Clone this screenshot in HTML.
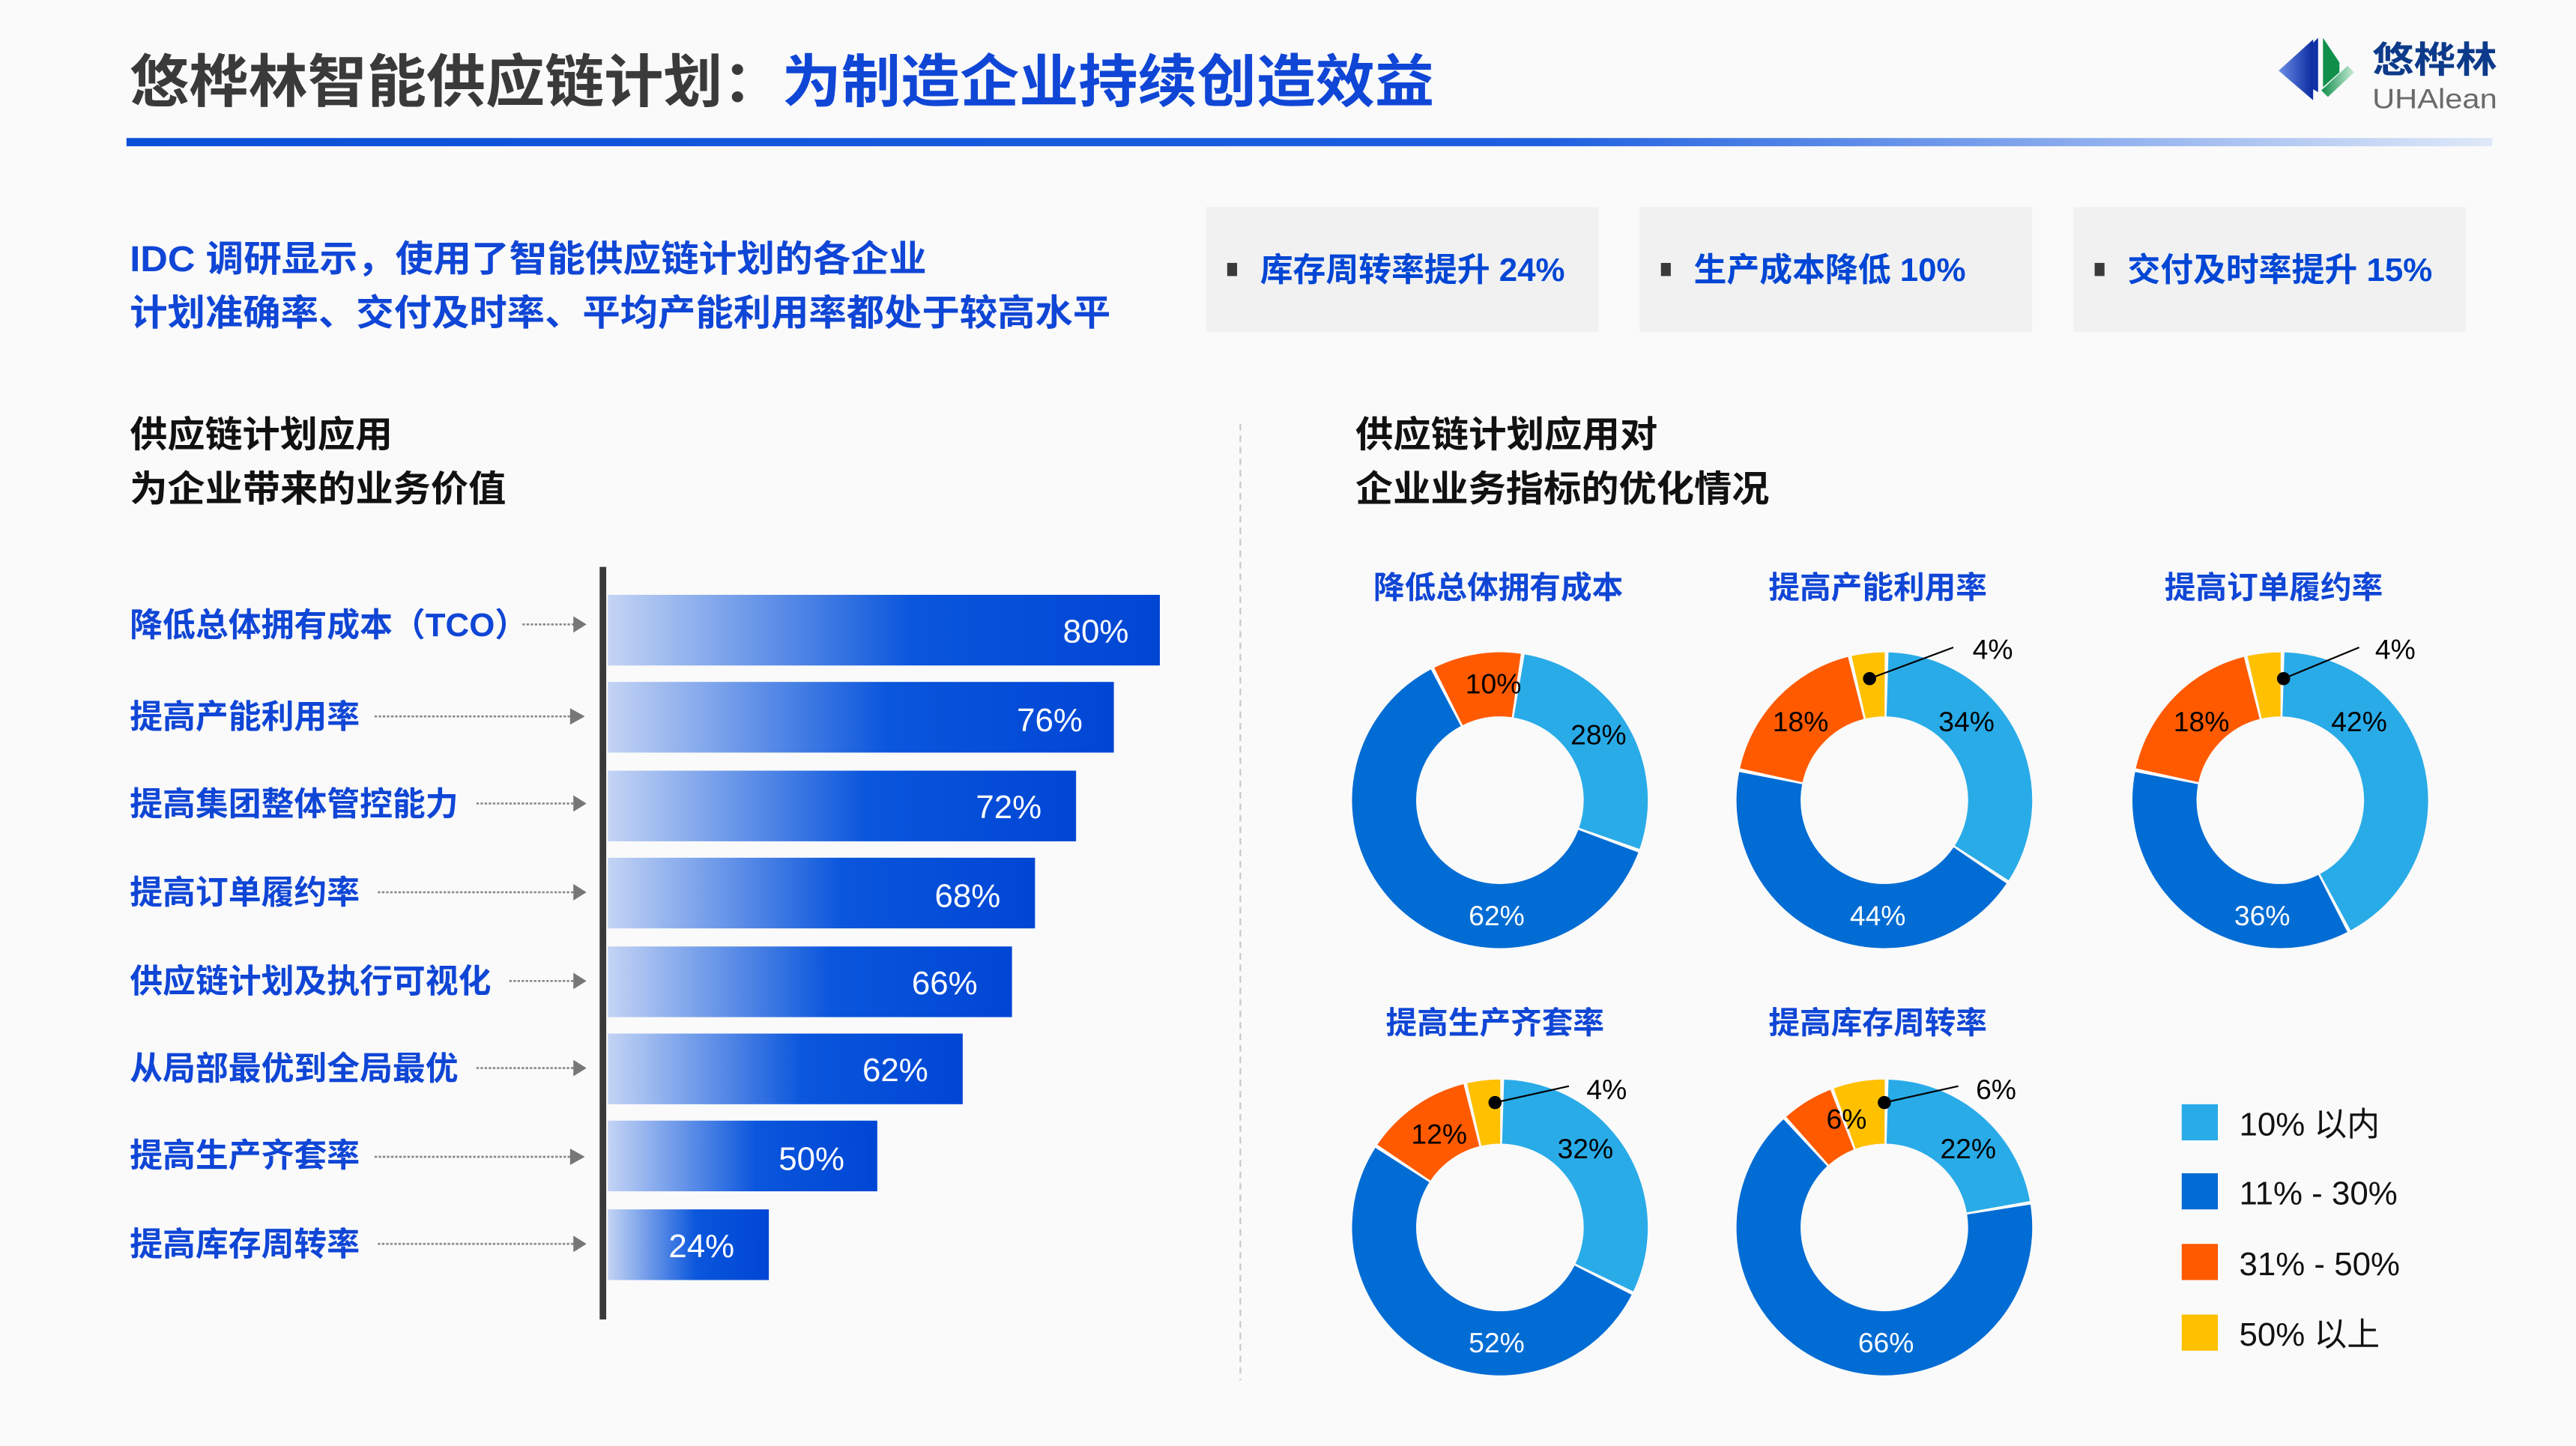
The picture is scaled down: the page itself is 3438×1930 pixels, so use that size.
<!DOCTYPE html>
<html><head><meta charset="utf-8"><style>
html,body{margin:0;padding:0;background:#fafafa;}
svg{display:block;}
text{font-family:"Liberation Sans","Noto Sans CJK SC",sans-serif;}
.b{font-weight:bold;}
</style></head><body>
<svg width="3438" height="1930" viewBox="0 0 1568 880" preserveAspectRatio="none" xmlns="http://www.w3.org/2000/svg">
<defs>
<linearGradient id="bar" x1="0" x2="1" y1="0" y2="0">
<stop offset="0" stop-color="#c4d4f4"/><stop offset="0.55" stop-color="#0a56dc"/><stop offset="1" stop-color="#0046d5"/>
</linearGradient>
<linearGradient id="ul" x1="0" x2="1">
<stop offset="0" stop-color="#0a4fd8"/><stop offset="0.6" stop-color="#1e5fe0"/><stop offset="1" stop-color="#dfe8f8"/>
</linearGradient>
<linearGradient id="lg1" x1="0" x2="1"><stop offset="0" stop-color="#6d8ee8"/><stop offset="1" stop-color="#0a2aa0"/></linearGradient>
<linearGradient id="lg2" x1="0" x2="1"><stop offset="0" stop-color="#0f8f4a"/><stop offset="1" stop-color="#c8ecd6"/></linearGradient>
</defs>
<rect width="1568" height="880" fill="#fafafa"/>
<!-- header -->
<text x="79" y="62" font-size="35" class="b" fill="#3a3a3a" textLength="794" lengthAdjust="spacingAndGlyphs">悠桦林智能供应链计划：<tspan fill="#1046d6">为制造企业持续创造效益</tspan></text>
<rect x="77" y="84" width="1440" height="5" fill="url(#ul)"/>
<!-- logo -->
<polygon points="1411,23 1411,56 1390,44" fill="url(#lg1)"/>
<polygon points="1387,43 1408,24 1408,61" fill="url(#lg1)"/>
<polygon points="1414,23 1414,53 1424,44 1424,38" fill="#0f8f4a"/>
<polygon points="1417,59 1433,44 1429,40 1413,55" fill="url(#lg2)"/>
<text x="1444" y="44" font-size="22" class="b" fill="#0d3a8a" textLength="76" lengthAdjust="spacingAndGlyphs">悠桦林</text>
<text x="1444" y="66" font-size="17" fill="#6a6a6a" textLength="76" lengthAdjust="spacingAndGlyphs">UHAlean</text>
<!-- subtitle -->
<text x="79" y="165" font-size="22" class="b" fill="#1046d6" textLength="485" lengthAdjust="spacingAndGlyphs">IDC 调研显示，使用了智能供应链计划的各企业</text>
<text x="79" y="198" font-size="22" class="b" fill="#1046d6" textLength="597" lengthAdjust="spacingAndGlyphs">计划准确率、交付及时率、平均产能利用率都处于较高水平</text>
<rect x="734" y="126" width="239" height="76" fill="#f1f1f1"/>
<rect x="998" y="126" width="239" height="76" fill="#f1f1f1"/>
<rect x="1262" y="126" width="239" height="76" fill="#f1f1f1"/>
<rect x="747" y="160" width="6" height="8" fill="#3a3a3a"/>
<rect x="1011" y="160" width="6" height="8" fill="#3a3a3a"/>
<rect x="1275" y="160" width="6" height="8" fill="#3a3a3a"/>
<text x="767" y="171" font-size="20" class="b" fill="#0046d5">库存周转率提升 24%</text>
<text x="1031" y="171" font-size="20" class="b" fill="#0046d5">生产成本降低 10%</text>
<text x="1295" y="171" font-size="20" class="b" fill="#0046d5">交付及时率提升 15%</text>
<!-- section headings -->
<text x="79" y="272" font-size="22" class="b" fill="#111" textLength="160" lengthAdjust="spacingAndGlyphs">供应链计划应用</text>
<text x="79" y="305" font-size="22" class="b" fill="#111" textLength="229" lengthAdjust="spacingAndGlyphs">为企业带来的业务价值</text>
<text x="825" y="272" font-size="22" class="b" fill="#111" textLength="184" lengthAdjust="spacingAndGlyphs">供应链计划应用对</text>
<text x="825" y="305" font-size="22" class="b" fill="#111" textLength="252" lengthAdjust="spacingAndGlyphs">企业业务指标的优化情况</text>
<line x1="755" y1="258" x2="755" y2="840" stroke="#c8c8c8" stroke-width="1" stroke-dasharray="4,3"/>
<!-- bars -->
<g font-size="20">
<g class="b" fill="#1046d6">
<text x="79" y="387">降低总体拥有成本（TCO）</text>
<text x="79" y="443">提高产能利用率</text>
<text x="79" y="496">提高集团整体管控能力</text>
<text x="79" y="550">提高订单履约率</text>
<text x="79" y="604">供应链计划及执行可视化</text>
<text x="79" y="657">从局部最优到全局最优</text>
<text x="79" y="710">提高生产齐套率</text>
<text x="79" y="764">提高库存周转率</text>
</g>
<g stroke="#888" stroke-width="1.2" stroke-dasharray="1.5,1">
<line x1="318" y1="380" x2="350" y2="380"/>
<line x1="228" y1="436" x2="350" y2="436"/>
<line x1="290" y1="489" x2="350" y2="489"/>
<line x1="230" y1="543" x2="350" y2="543"/>
<line x1="310" y1="597" x2="350" y2="597"/>
<line x1="290" y1="650" x2="350" y2="650"/>
<line x1="228" y1="704" x2="350" y2="704"/>
<line x1="230" y1="757" x2="350" y2="757"/>
</g>
<g fill="#777">
<polygon points="349,375 357,380 349,385"/>
<polygon points="347,431 356,436 347,441"/>
<polygon points="349,484 357,489 349,494"/>
<polygon points="349,538 357,543 349,548"/>
<polygon points="349,592 357,597 349,602"/>
<polygon points="349,645 357,650 349,655"/>
<polygon points="347,699 356,704 347,709"/>
<polygon points="349,752 357,757 349,762"/>
</g>
<rect x="370" y="362" width="336" height="43" fill="url(#bar)"/>
<rect x="370" y="415" width="308" height="43" fill="url(#bar)"/>
<rect x="370" y="469" width="285" height="43" fill="url(#bar)"/>
<rect x="370" y="522" width="260" height="43" fill="url(#bar)"/>
<rect x="370" y="576" width="246" height="43" fill="url(#bar)"/>
<rect x="370" y="629" width="216" height="43" fill="url(#bar)"/>
<rect x="370" y="682" width="164" height="43" fill="url(#bar)"/>
<rect x="370" y="736" width="98" height="43" fill="url(#bar)"/>
<g fill="#fff" text-anchor="end">
<text x="687" y="391">80%</text>
<text x="659" y="445">76%</text>
<text x="634" y="498">72%</text>
<text x="609" y="552">68%</text>
<text x="595" y="605">66%</text>
<text x="565" y="658">62%</text>
<text x="514" y="712">50%</text>
<text x="447" y="765">24%</text>
</g>
</g>
<rect x="365" y="345" width="4" height="458" fill="#3a3a3a"/>
<!-- donut titles -->
<g font-size="19" class="b" fill="#1046d6" text-anchor="middle">
<text x="912" y="364">降低总体拥有成本</text>
<text x="1143" y="364">提高产能利用率</text>
<text x="1384" y="364">提高订单履约率</text>
<text x="910" y="629">提高生产齐套率</text>
<text x="1143" y="629">提高库存周转率</text>
</g>
<!-- donuts -->
<g fill="none" stroke-width="39">
<g transform="translate(913,487) rotate(-80)">
<circle r="70.5" pathLength="100" stroke="#29abe8" stroke-dasharray="27.6 72.4" stroke-dashoffset="0"/>
<circle r="70.5" pathLength="100" stroke="#006cd4" stroke-dasharray="61.6 38.4" stroke-dashoffset="-28"/>
<circle r="70.5" pathLength="100" stroke="#ff5a00" stroke-dasharray="9.6 90.4" stroke-dashoffset="-90"/>
</g>
<g transform="translate(1147,487) rotate(-88)">
<circle r="70.5" pathLength="100" stroke="#29abe8" stroke-dasharray="33.6 66.4" stroke-dashoffset="0"/>
<circle r="70.5" pathLength="100" stroke="#006cd4" stroke-dasharray="43.6 56.4" stroke-dashoffset="-34"/>
<circle r="70.5" pathLength="100" stroke="#ff5a00" stroke-dasharray="17.6 82.4" stroke-dashoffset="-78"/>
<circle r="70.5" pathLength="100" stroke="#ffc000" stroke-dasharray="3.6 96.4" stroke-dashoffset="-96"/>
</g>
<g transform="translate(1388,487) rotate(-88)">
<circle r="70.5" pathLength="100" stroke="#29abe8" stroke-dasharray="41.6 58.4" stroke-dashoffset="0"/>
<circle r="70.5" pathLength="100" stroke="#006cd4" stroke-dasharray="35.6 64.4" stroke-dashoffset="-42"/>
<circle r="70.5" pathLength="100" stroke="#ff5a00" stroke-dasharray="17.6 82.4" stroke-dashoffset="-78"/>
<circle r="70.5" pathLength="100" stroke="#ffc000" stroke-dasharray="3.6 96.4" stroke-dashoffset="-96"/>
</g>
<g transform="translate(913,747) rotate(-88)">
<circle r="70.5" pathLength="100" stroke="#29abe8" stroke-dasharray="31.6 68.4" stroke-dashoffset="0"/>
<circle r="70.5" pathLength="100" stroke="#006cd4" stroke-dasharray="51.6 48.4" stroke-dashoffset="-32"/>
<circle r="70.5" pathLength="100" stroke="#ff5a00" stroke-dasharray="11.6 88.4" stroke-dashoffset="-84"/>
<circle r="70.5" pathLength="100" stroke="#ffc000" stroke-dasharray="3.6 96.4" stroke-dashoffset="-96"/>
</g>
<g transform="translate(1147,747) rotate(-88)">
<circle r="70.5" pathLength="100" stroke="#29abe8" stroke-dasharray="21.6 78.4" stroke-dashoffset="0"/>
<circle r="70.5" pathLength="100" stroke="#006cd4" stroke-dasharray="65.6 34.4" stroke-dashoffset="-22"/>
<circle r="70.5" pathLength="100" stroke="#ff5a00" stroke-dasharray="5.6 94.4" stroke-dashoffset="-88"/>
<circle r="70.5" pathLength="100" stroke="#ffc000" stroke-dasharray="5.6 94.4" stroke-dashoffset="-94"/>
</g>
</g>
<!-- donut labels -->
<g font-size="17" fill="#000" text-anchor="middle">
<text x="909" y="422">10%</text>
<text x="973" y="453">28%</text>
<text x="911" y="563" fill="#fff">62%</text>
<text x="1096" y="445">18%</text>
<text x="1197" y="445">34%</text>
<text x="1143" y="563" fill="#fff">44%</text>
<text x="1213" y="401">4%</text>
<text x="1340" y="445">18%</text>
<text x="1436" y="445">42%</text>
<text x="1377" y="563" fill="#fff">36%</text>
<text x="1458" y="401">4%</text>
<text x="876" y="696">12%</text>
<text x="965" y="705">32%</text>
<text x="911" y="823" fill="#fff">52%</text>
<text x="978" y="669">4%</text>
<text x="1124" y="687">6%</text>
<text x="1198" y="705">22%</text>
<text x="1148" y="823" fill="#fff">66%</text>
<text x="1215" y="669">6%</text>
</g>
<g stroke="#000" stroke-width="1">
<line x1="1138" y1="413" x2="1189" y2="394"/>
<line x1="1390" y1="413" x2="1436" y2="394"/>
<line x1="910" y1="671" x2="955" y2="661"/>
<line x1="1147" y1="671" x2="1192" y2="661"/>
</g>
<g fill="#000">
<circle cx="1138" cy="413" r="4"/>
<circle cx="1390" cy="413" r="4"/>
<circle cx="910" cy="671" r="4"/>
<circle cx="1147" cy="671" r="4"/>
</g>
<!-- legend -->
<rect x="1328" y="672" width="22" height="22" fill="#29abe8"/>
<rect x="1328" y="714" width="22" height="22" fill="#006cd4"/>
<rect x="1328" y="757" width="22" height="22" fill="#ff5a00"/>
<rect x="1328" y="800" width="22" height="22" fill="#ffc000"/>
<g font-size="20" fill="#111">
<text x="1363" y="691">10% 以内</text>
<text x="1363" y="733">11% - 30%</text>
<text x="1363" y="776">31% - 50%</text>
<text x="1363" y="819">50% 以上</text>
</g>
</svg>
</body></html>
